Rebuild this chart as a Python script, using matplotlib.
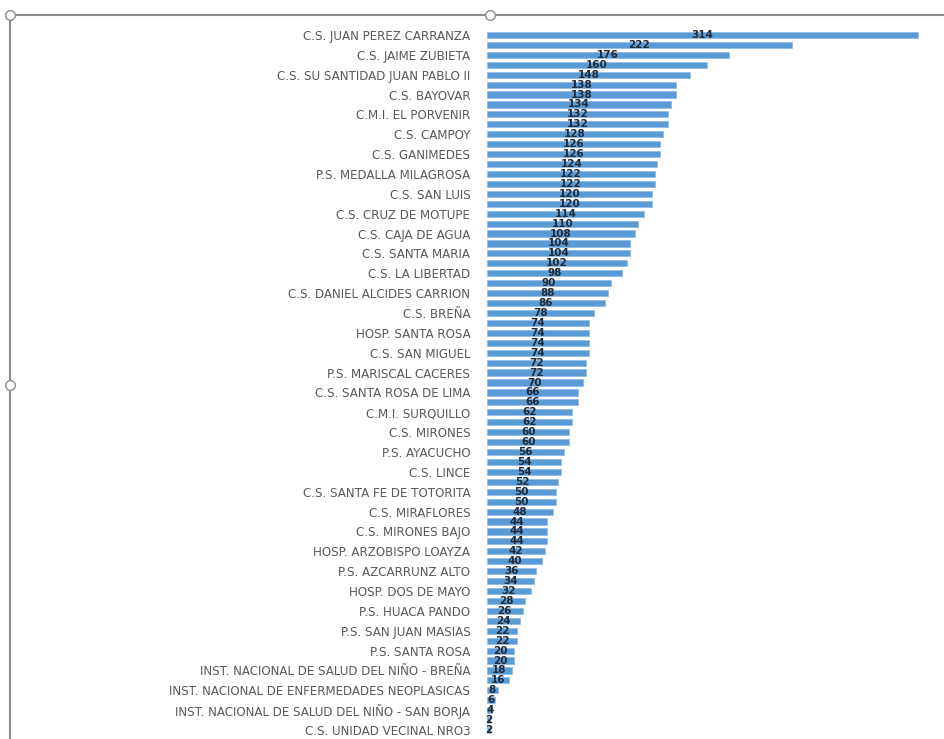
import matplotlib
matplotlib.use("Agg")
import matplotlib.pyplot as plt
from matplotlib.lines import Line2D

# every other bar carries a visible label in the original chart
labels = [
    "C.S. JUAN PEREZ CARRANZA",
    "C.S. JAIME ZUBIETA",
    "C.S. SU SANTIDAD JUAN PABLO II",
    "C.S. BAYOVAR",
    "C.M.I. EL PORVENIR",
    "C.S. CAMPOY",
    "C.S. GANIMEDES",
    "P.S. MEDALLA MILAGROSA",
    "C.S. SAN LUIS",
    "C.S. CRUZ DE MOTUPE",
    "C.S. CAJA DE AGUA",
    "C.S. SANTA MARIA",
    "C.S. LA LIBERTAD",
    "C.S. DANIEL ALCIDES CARRION",
    "C.S. BREÑA",
    "HOSP. SANTA ROSA",
    "C.S. SAN MIGUEL",
    "P.S. MARISCAL CACERES",
    "C.S. SANTA ROSA DE LIMA",
    "C.M.I. SURQUILLO",
    "C.S. MIRONES",
    "P.S. AYACUCHO",
    "C.S. LINCE",
    "C.S. SANTA FE DE TOTORITA",
    "C.S. MIRAFLORES",
    "C.S. MIRONES BAJO",
    "HOSP. ARZOBISPO LOAYZA",
    "P.S. AZCARRUNZ ALTO",
    "HOSP. DOS DE MAYO",
    "P.S. HUACA PANDO",
    "P.S. SAN JUAN MASIAS",
    "P.S. SANTA ROSA",
    "INST. NACIONAL DE SALUD DEL NIÑO - BREÑA",
    "INST. NACIONAL DE ENFERMEDADES NEOPLASICAS",
    "INST. NACIONAL DE SALUD DEL NIÑO - SAN BORJA",
    "C.S. UNIDAD VECINAL NRO3",
]

values = [
    314, 222, 176, 160, 148, 138, 138, 134, 132, 132,
    128, 126, 126, 124, 122, 122, 120, 120, 114, 110,
    108, 104, 104, 102, 98, 90, 88, 86, 78, 74,
    74, 74, 74, 72, 72, 70, 66, 66, 62, 62,
    60, 60, 56, 54, 54, 52, 50, 50, 48, 44,
    44, 44, 42, 40, 36, 34, 32, 28, 26, 24,
    22, 22, 20, 20, 18, 16, 8, 6, 4, 2, 2,
]

W, H = 945, 739
fig = plt.figure(figsize=(W / 100, H / 100), dpi=100)
# bars span from y=30 to y=735 px (from top)
ax = fig.add_axes([487 / W, 4 / H, (932 - 487) / W, 705 / H])

pos = list(range(len(values)))
ax.barh(pos, values, height=0.62, color="#5b9bd5", edgecolor="#8fbce6", linewidth=0.6)

for y, v in zip(pos, values):
    ax.text(v / 2, y, str(v), ha="center", va="center", fontsize=7.5,
            fontweight="bold", color="#1f2a3a")

ax.set_ylim(len(values) - 0.5, -0.5)
ax.set_xlim(0, (932 - 487) / 1.373)
ax.set_yticks(pos[::2])
ax.set_yticklabels(labels, fontsize=8.6, color="#595959")
ax.tick_params(axis="y", length=0, pad=12)
ax.set_xticks([])
for s in ax.spines.values():
    s.set_visible(False)

# selection frame and handles of the embedded chart
fig.add_artist(Line2D([10 / W, 1], [1 - 15 / H, 1 - 15 / H], color="#8c8c8c", lw=1.5))
fig.add_artist(Line2D([10 / W, 10 / W], [0, 1 - 15 / H], color="#8c8c8c", lw=1.5))
for hx, hy in [(10, 15), (490, 15), (10, 385)]:
    fig.add_artist(Line2D([hx / W], [1 - hy / H], marker="o", markersize=7,
                          markerfacecolor="white", markeredgecolor="#8c8c8c", lw=0))

fig.savefig("out.png", dpi=100)
